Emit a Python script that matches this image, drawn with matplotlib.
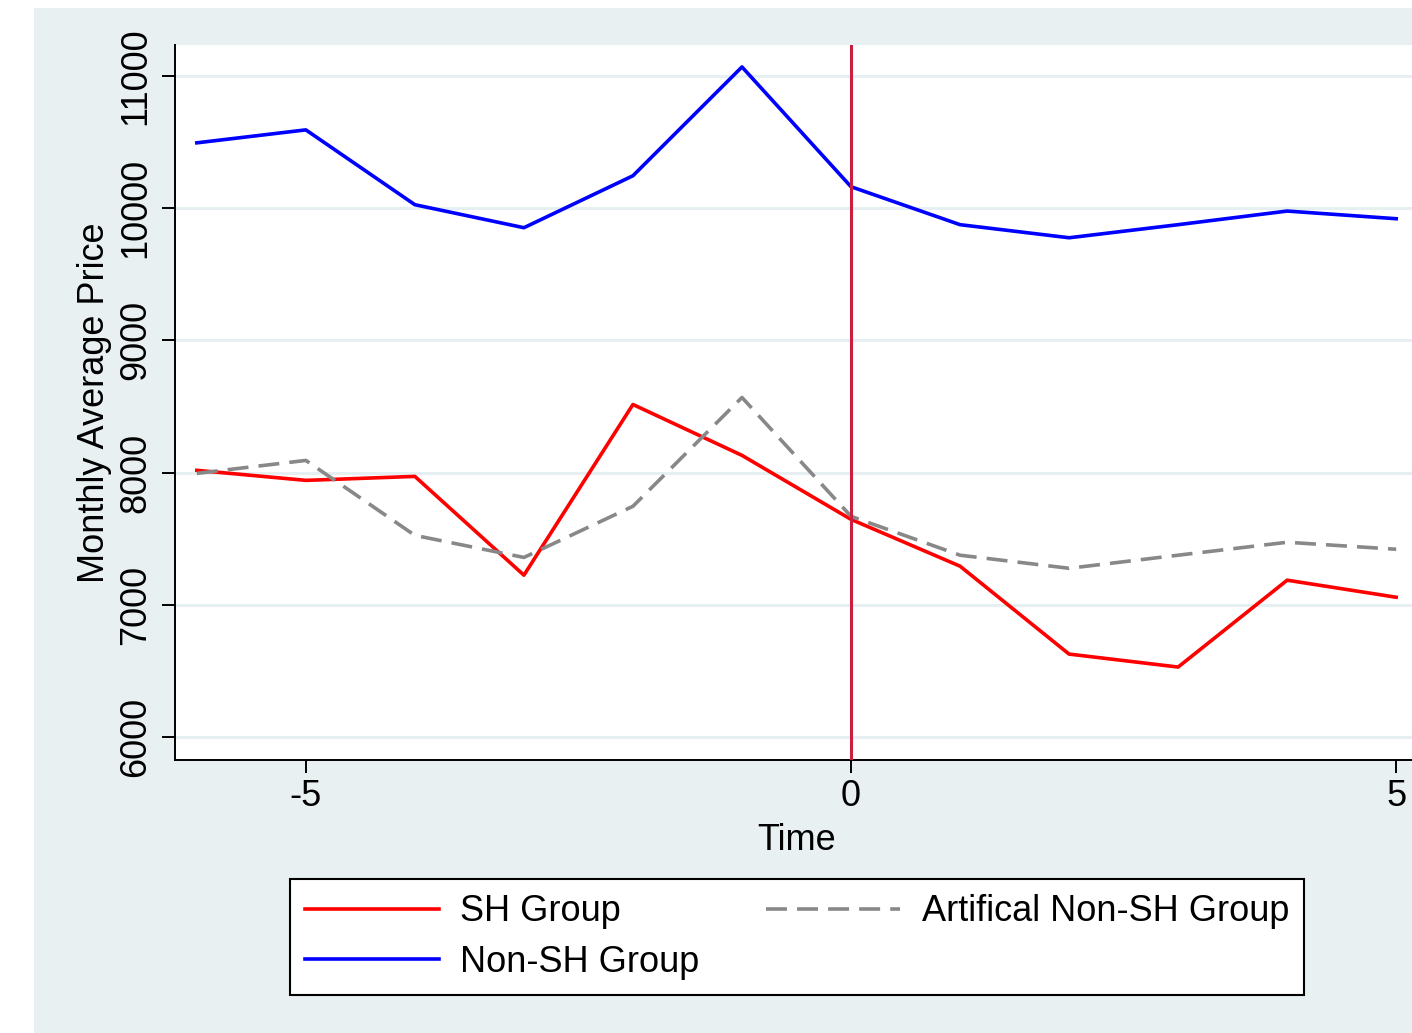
import numpy as np
import matplotlib
matplotlib.use("Agg")
import matplotlib.pyplot as plt
from matplotlib.patches import Rectangle

plt.rcParams['font.family'] = ['Liberation Sans', 'DejaVu Sans']

# data
time = [-6, -5, -4, -3, -2, -1, 0, 1, 2, 3, 4, 5]
sh_group = [8017, 7941, 7971, 7224, 8515, 8130, 7646, 7292, 6627, 6529, 7186, 7057]
non_sh_group = [10494, 10592, 10026, 9852, 10245, 11068, 10162, 9875, 9776, 9875, 9978, 9920]
artif_non_sh = [7994, 8092, 7525, 7358, 7745, 8568, 7669, 7375, 7276, 7375, 7473, 7420]
xticks = [-5, 0, 5]
yticks = [6000, 7000, 8000, 9000, 10000, 11000]

W, H = 1412, 1033
bg = '#e8f0f2'
fs = 26

fig = plt.figure(figsize=(W / 100, H / 100), dpi=100, facecolor='white')
# Stata-like graph region (screenshot leaves a white strip on top/left)
fig.patches.append(Rectangle((34 / W, 0), 1 - 34 / W, 1 - 8 / H,
                             transform=fig.transFigure, facecolor=bg,
                             edgecolor='none', zorder=-10))

left, right, top, bottom = 175, 1418, 45, 760
ax = fig.add_axes([left / W, 1 - bottom / H, (right - left) / W, (bottom - top) / H])
ax.set_facecolor('white')

ax.plot(time, sh_group, color='#ff0000', lw=2.6, label='SH Group', zorder=3)
ax.plot(time, non_sh_group, color='#0000ff', lw=2.6, label='Non-SH Group', zorder=3)
ax.plot(time, artif_non_sh, color='#888888', lw=2.6, dashes=(5.8, 2.8),
        label='Artifical Non-SH Group', zorder=3)
ax.axvline(0, color='#cc1f3f', lw=2.2, zorder=4)

ax.set_xlim(-6.2, 5.2)
ax.set_ylim(5826, 11234)
ax.set_xticks(xticks)
ax.set_yticks(yticks)
ax.set_xticklabels([str(t) for t in xticks])
ax.set_yticklabels([str(t) for t in yticks], rotation=90, va='center')
ax.grid(axis='y', color='#e6eff1', lw=2.2, zorder=0)
ax.set_axisbelow(True)

for s in ['top', 'right']:
    ax.spines[s].set_visible(False)
for s in ['left', 'bottom']:
    ax.spines[s].set_linewidth(1.4)
ax.tick_params(axis='both', length=9.5, width=1.4, labelsize=fs, color='black')
ax.tick_params(axis='y', pad=6)
ax.tick_params(axis='x', pad=4)

ax.set_xlabel('Time', fontsize=fs, labelpad=7)
ax.set_ylabel('Monthly Average Price', fontsize=fs, labelpad=5)

handles, labels = ax.get_legend_handles_labels()
leg = fig.legend(handles, labels, ncol=2, loc='center',
                 bbox_to_anchor=(797 / W, 1 - 937 / H), fontsize=fs,
                 frameon=True, fancybox=False, framealpha=1, edgecolor='black',
                 handlelength=3.7, handletextpad=0.6, columnspacing=1.85,
                 borderpad=0.42, labelspacing=0.42)
leg.get_frame().set_linewidth(1.5)

fig.savefig('out.png', dpi=100, facecolor='white')
